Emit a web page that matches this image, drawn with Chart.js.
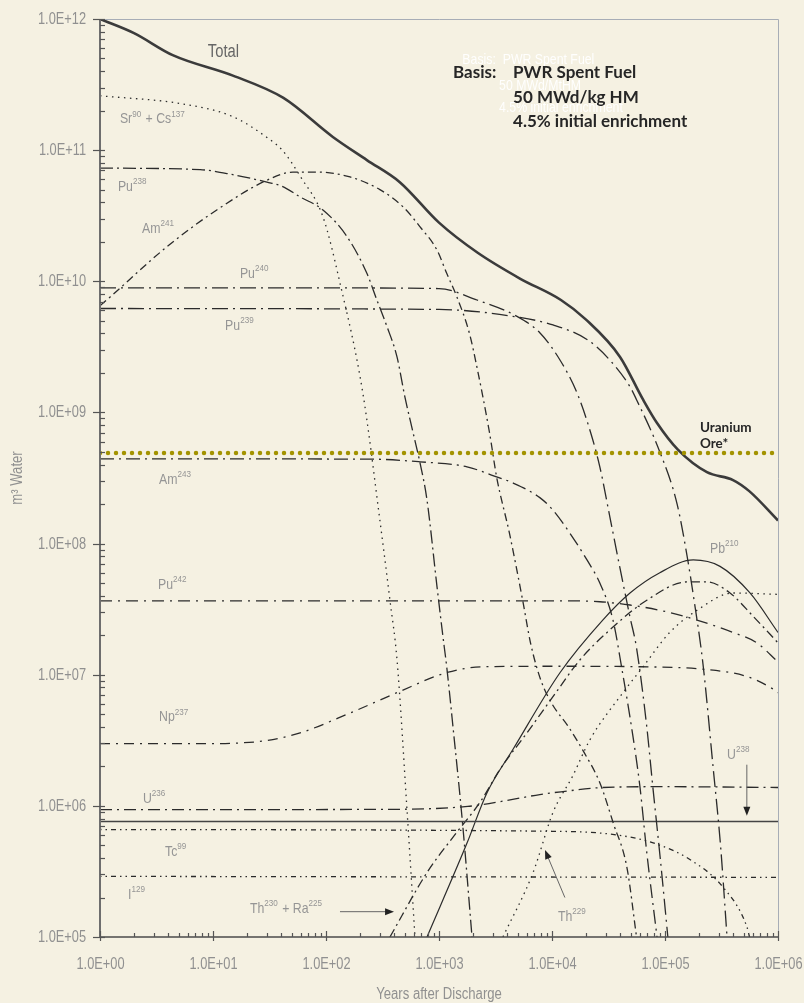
<!DOCTYPE html>
<html>
<head>
<meta charset="utf-8">
<title>PWR spent fuel - m3 water</title>
<script src="https://cdn.jsdelivr.net/npm/chart.js@4.4.1/dist/chart.umd.min.js"></script>
<style>
  html, body { margin: 0; padding: 0; background: #f5f1e2; }
  #wrap { width: 804px; height: 1003px; }
</style>
</head>
<body>
<div id="wrap"><canvas id="chart" width="804" height="1003"></canvas></div>
<script>
// axis ticks
const xTickValues = [1, 10, 100, 1000, 1e4, 1e5, 1e6];
const xTickLabels = ['1.0E+00', '1.0E+01', '1.0E+02', '1.0E+03', '1.0E+04', '1.0E+05', '1.0E+06'];
const yTickValues = [1e5, 1e6, 1e7, 1e8, 1e9, 1e10, 1e11, 1e12];
const yTickLabels = ['1.0E+05', '1.0E+06', '1.0E+07', '1.0E+08', '1.0E+09', '1.0E+10', '1.0E+11', '1.0E+12'];

// series: [years after discharge, m3 water]
const total = [[1, 1e12], [2, 7.8e11], [4.4, 5.3e11], [15, 3.7e11], [42, 2.5e11], [115, 1.26e11], [230, 8.4e10], [450, 5.7e10], [1000, 2.8e10], [2200, 1.65e10], [5200, 1.05e10], [1.2e4, 7.2e9], [2e4, 5.1e9], [4e4, 2.65e9], [6.4e4, 1.25e9], [8.5e4, 8.3e8], [1.3e5, 5.2e8], [2.35e5, 3.5e8], [4e5, 3.05e8], [5.6e5, 2.5e8], [1e6, 1.5e8]];
const srCs = [[1, 2.6e11], [5.4, 2.25e11], [15, 1.8e11], [30, 1.25e11], [41, 1.0e11], [60, 6.2e10], [94, 3.1e10], [133, 9.7e9], [212, 1.4e9], [300, 1.5e8], [368, 3.7e7], [425, 1.3e7], [521, 9.3e5], [613, 1e5]];
const pu238 = [[1, 7.3e10], [7.7, 7.1e10], [15, 6.5e10], [30, 5.7e10], [41, 5.3e10], [59, 4.4e10], [94, 3.5e10], [153, 2.2e10], [230, 1.15e10], [282, 7.2e9], [347, 4.5e9], [425, 2.65e9], [500, 1.3e9], [590, 7e8], [680, 4.1e8], [780, 2.2e8], [960, 4.7e7], [1080, 2e7], [1170, 1.15e7], [1330, 4e6], [1620, 7.2e5], [1960, 1e5]];
const am241 = [[1, 6.5e9], [1.23, 7.6e9], [3.9, 1.83e10], [10.8, 3.5e10], [30, 5.9e10], [51, 6.8e10], [83, 6.8e10], [163, 6.25e10], [300, 5e10], [480, 3.7e10], [680, 2.6e10], [960, 1.73e10], [1170, 1.15e10], [1440, 7.6e9], [1860, 4e9], [2170, 2.2e9], [2800, 7e8], [3240, 3.2e8], [4200, 1.2e8], [5500, 3.7e7], [6500, 1.7e7], [8000, 9e6], [1e4, 6e6], [1.4e4, 4e6], [1.9e4, 2.6e6], [2.65e4, 1.5e6], [3.5e4, 7.3e5], [4.6e4, 3.4e5], [5.6e4, 1e5]];
const pu240 = [[1, 8.9e9], [100, 8.9e9], [1000, 8.8e9], [2170, 7.2e9], [4900, 5.4e9], [7800, 4.05e9], [1.18e4, 2.5e9], [1.67e4, 1.4e9], [2.2e4, 7e8], [2.65e4, 3.85e8], [3.25e4, 1.6e8], [3.98e4, 6.6e7], [4.9e4, 2.75e7], [5.6e4, 1.6e7], [6.9e4, 4e6], [7.8e4, 1.4e6], [9.1e4, 3.9e5], [1.06e5, 1e5]];
const pu239 = [[1, 6.2e9], [1000, 6.1e9], [5200, 5.3e9], [1.02e4, 4.65e9], [2.04e4, 3.6e9], [3.26e4, 2.5e9], [4.9e4, 1.57e9], [5.6e4, 1.25e9], [9e4, 5e8], [1.28e5, 2e8], [1.57e5, 8e7], [1.8e5, 3.8e7], [2.17e5, 1.2e7], [2.66e5, 2e6], [3.1e5, 5e5], [3.54e5, 1e5]];
const am243 = [[1, 4.43e8], [260, 4.4e8], [680, 4.2e8], [1770, 3.85e8], [3000, 3.3e8], [4500, 2.9e8], [7800, 2.24e8], [1.02e4, 1.8e8], [1.44e4, 1.2e8], [2.04e4, 7.5e7], [2.65e4, 5.0e7], [3.47e4, 2.6e7], [4.16e4, 1.1e7], [5.1e4, 3.8e6], [6e4, 1.4e6], [6.9e4, 4.4e5], [8.5e4, 1e5]];
const pu242 = [[1, 3.66e7], [1.2e4, 3.66e7], [2.65e4, 3.6e7], [4.9e4, 3.4e7], [9e4, 3.1e7], [1.57e5, 2.75e7], [4e5, 2.1e7], [6.5e5, 1.75e7], [1e6, 1.25e7]];
const np237 = [[1, 2.98e6], [10, 2.98e6], [15, 3.0e6], [30, 3.15e6], [59, 3.6e6], [163, 5.1e6], [425, 7.3e6], [1180, 1.04e7], [2450, 1.15e7], [1.2e4, 1.16e7], [6e4, 1.15e7], [2.2e5, 1.1e7], [5.3e5, 9.7e6], [9e5, 7.8e6], [1e6, 7.3e6]];
const u236 = [[1, 9.35e5], [300, 9.4e5], [1800, 9.9e5], [4000, 1.1e6], [7800, 1.22e6], [1.2e4, 1.28e6], [2.8e4, 1.38e6], [1e5, 1.4e6], [1e6, 1.38e6]];
const u238 = [[1, 7.6e5], [1e6, 7.6e5]];
const tc99 = [[1, 6.6e5], [1e4, 6.4e5], [3.76e4, 6.0e5], [8.5e4, 5.1e5], [1.66e5, 3.9e5], [3.26e5, 2.4e5], [5.3e5, 1.2e5], [5.6e5, 1e5]];
const i129 = [[1, 2.9e5], [1e6, 2.85e5]];
const th230Ra = [[368, 1e5], [783, 3.1e5], [1440, 6.3e5], [2300, 1.06e6], [3470, 1.9e6], [6000, 3.6e6], [1.02e4, 6.8e6], [1.77e4, 1.3e7], [3.07e4, 2.1e7], [6.9e4, 3.7e7], [1.57e5, 5.1e7], [2.35e5, 5.1e7], [3.76e5, 4.2e7], [6e5, 2.8e7], [1e6, 1.75e7]];
const pb210 = [[783, 1e5], [1770, 5.2e5], [2660, 1.26e6], [4520, 2.7e6], [1.18e4, 1.04e7], [2.8e4, 2.6e7], [4.9e4, 4.2e7], [9e4, 6e7], [1.78e5, 7.5e7], [3.07e5, 6.7e7], [5.65e5, 4.2e7], [1e6, 2.1e7]];
const th229 = [[3680, 1e5], [6800, 3.1e5], [1.02e4, 8.9e5], [1.53e4, 1.7e6], [2.17e4, 3.2e6], [4.25e4, 7.3e6], [6.4e4, 1.15e7], [1.1e5, 2.1e7], [1.92e5, 3.1e7], [4e5, 4.2e7], [1e6, 4.1e7]];
const uraniumOre = [[1, 4.9e8], [1e6, 4.9e8]];

const INK = '#2b2b2b';
const SANS = '"Liberation Sans", Arial, sans-serif';
const GREY = '#909090';

const curves = [
    { name: 'Uranium Ore', data: uraniumOre, width: 4.5, dash: [0, 8], color: '#a39300', cap: 'round', order: 0 },
    { name: 'Total', data: total, width: 2.6, dash: [], color: '#3b3b3b' },
    { name: 'Sr90 + Cs137', data: srCs, width: 1.3, dash: [1.5, 4.5] },
    { name: 'Pu238', data: pu238, width: 1.3, dash: [13, 4, 2, 4] },
    { name: 'Am241', data: am241, width: 1.3, dash: [8, 4, 2, 4] },
    { name: 'Pu240', data: pu240, width: 1.3, dash: [16, 5, 2, 5] },
    { name: 'Pu239', data: pu239, width: 1.3, dash: [16, 5, 2, 5] },
    { name: 'Am243', data: am243, width: 1.3, dash: [14, 5, 2, 5] },
    { name: 'Pu242', data: pu242, width: 1.3, dash: [12, 6, 2, 6] },
    { name: 'Np237', data: np237, width: 1.3, dash: [10, 6, 2, 6] },
    { name: 'U236', data: u236, width: 1.3, dash: [12, 5, 2, 5] },
    { name: 'U238', data: u238, width: 1.3, dash: [], color: '#444' },
    { name: 'Tc99', data: tc99, width: 1.3, dash: [1.5, 4, 1.5, 4, 5, 4] },
    { name: 'I129', data: i129, width: 1.3, dash: [1.5, 4, 1.5, 4, 5, 4] },
    { name: 'Th230 + Ra225', data: th230Ra, width: 1.3, dash: [9, 4, 2, 4] },
    { name: 'Pb210', data: pb210, width: 1.2, dash: [] },
    { name: 'Th229', data: th229, width: 1.3, dash: [1.5, 4.5] }
];

// text labels, anchored in data coordinates (left, baseline)
const labels = [
    { parts: [['Total', 0]], at: [9.0, 5.1e11], size: 18, color: '#666' },
    { parts: [['Sr', 0], ['90', 1], [' + Cs', 0], ['137', 1]], at: [1.5, 1.6e11] },
    { parts: [['Pu', 0], ['238', 1]], at: [1.44, 4.9e10] },
    { parts: [['Am', 0], ['241', 1]], at: [2.35, 2.34e10] },
    { parts: [['Pu', 0], ['240', 1]], at: [17.3, 1.06e10] },
    { parts: [['Pu', 0], ['239', 1]], at: [12.8, 4.27e9] },
    { parts: [['Am', 0], ['243', 1]], at: [3.33, 2.86e8] },
    { parts: [['Pu', 0], ['242', 1]], at: [3.26, 4.5e7] },
    { parts: [['Np', 0], ['237', 1]], at: [3.33, 4.4e6] },
    { parts: [['U', 0], ['236', 1]], at: [2.4, 1.06e6] },
    { parts: [['Tc', 0], ['99', 1]], at: [3.76, 4.17e5] },
    { parts: [['I', 0], ['129', 1]], at: [1.77, 1.96e5] },
    { parts: [['Th', 0], ['230', 1], [' + Ra', 0], ['225', 1]], at: [21.2, 1.53e5] },
    { parts: [['Pb', 0], ['210', 1]], at: [2.5e5, 8.5e7] },
    { parts: [['U', 0], ['238', 1]], at: [3.54e5, 2.29e6] },
    { parts: [['Th', 0], ['229', 1]], at: [1.13e4, 1.33e5] }
];

const arrows = [
    { from: [133, 1.56e5], to: [400, 1.56e5] },
    { from: [5.3e5, 2.06e6], to: [5.3e5, 8.4e5] },
    { from: [1.3e4, 2e5], to: [8670, 4.6e5] }
];

const basisLines = [
    { text: 'Basis:', at: [1330, 3.55e11] },
    { text: 'PWR Spent Fuel', at: [4520, 3.55e11] },
    { text: '50 MWd/kg HM', at: [4520, 2.29e11] },
    { text: '4.5% initial enrichment', at: [4520, 1.5e11] }
];
const ghostLines = [
    { text: 'Basis:  PWR Spent Fuel', at: [1610, 4.5e11] },
    { text: '50 MWd/MtHM', at: [3400, 2.9e11] },
    { text: '4.5% initial enrichment', at: [3400, 1.95e11] }
];
const oreLines = [
    { text: 'Uranium', at: [2.04e5, 7.1e8] },
    { text: 'Ore*', at: [2.04e5, 5.37e8] }
];

function logTicks(majors) {
    const out = [];
    majors.forEach((m, i) => {
        out.push({ value: m, major: true });
        if (i < majors.length - 1) {
            for (let k = 2; k < 10; k++) out.push({ value: m * k, major: false });
        }
    });
    return out;
}

// condensed text: the reference uses a narrow face, so squeeze a regular one
function narrowText(ctx, text, px, py, size, color, align, baseline, squeeze) {
    const k = squeeze || 0.82;
    ctx.save();
    ctx.translate(px, py);
    ctx.scale(k, 1);
    ctx.font = size + 'px ' + SANS;
    ctx.fillStyle = color;
    ctx.textAlign = align || 'left';
    ctx.textBaseline = baseline || 'alphabetic';
    ctx.fillText(text, 0, 0);
    const w = ctx.measureText(text).width * k;
    ctx.restore();
    return w;
}

function drawParts(ctx, parts, px, py, size, color) {
    let cx = px;
    parts.forEach(([text, sup]) => {
        const s = sup ? size * 0.66 : size;
        cx += narrowText(ctx, text, cx, sup ? py - size * 0.45 : py, s, color) + (sup ? 1 : 0);
    });
}

function drawArrow(ctx, x1, y1, x2, y2) {
    const ang = Math.atan2(y2 - y1, x2 - x1);
    ctx.strokeStyle = '#666';
    ctx.lineWidth = 1;
    ctx.beginPath();
    ctx.moveTo(x1, y1);
    ctx.lineTo(x2 - 7 * Math.cos(ang), y2 - 7 * Math.sin(ang));
    ctx.stroke();
    ctx.fillStyle = '#222';
    ctx.beginPath();
    ctx.moveTo(x2, y2);
    ctx.lineTo(x2 - 9 * Math.cos(ang) + 3.5 * Math.sin(ang), y2 - 9 * Math.sin(ang) - 3.5 * Math.cos(ang));
    ctx.lineTo(x2 - 9 * Math.cos(ang) - 3.5 * Math.sin(ang), y2 - 9 * Math.sin(ang) + 3.5 * Math.cos(ang));
    ctx.closePath();
    ctx.fill();
}

const sketchPlugin = {
    id: 'sketch',
    beforeDraw(chart) {
        const ctx = chart.ctx;
        ctx.save();
        ctx.fillStyle = '#f5f1e2';
        ctx.fillRect(0, 0, chart.width, chart.height);
        ctx.restore();
    },
    afterDatasetsDraw(chart) {
        const { ctx, chartArea: a, scales: { x, y } } = chart;
        ctx.save();

        // frame
        ctx.strokeStyle = '#a7adb6';
        ctx.lineWidth = 1;
        ctx.beginPath();
        ctx.moveTo(a.left, a.top + 0.5);
        ctx.lineTo(a.right + 0.5, a.top + 0.5);
        ctx.lineTo(a.right + 0.5, a.bottom);
        ctx.stroke();

        ctx.strokeStyle = '#6e6e6e';
        ctx.lineWidth = 2;
        ctx.beginPath();
        ctx.moveTo(a.left, a.top);
        ctx.lineTo(a.left, a.bottom);
        ctx.stroke();

        ctx.strokeStyle = '#4a4a4a';
        ctx.lineWidth = 1.5;
        ctx.beginPath();
        ctx.moveTo(a.left, a.bottom);
        ctx.lineTo(a.right + 1, a.bottom);
        ctx.stroke();

        // tick marks and tick labels
        ctx.lineWidth = 1.2;
        ctx.strokeStyle = '#555';
        y.ticks.forEach(t => {
            const py = Math.round(y.getPixelForValue(t.value)) + 0.5;
            ctx.beginPath();
            ctx.moveTo(t.major ? a.left - 7 : a.left, py);
            ctx.lineTo(a.left + 5, py);
            ctx.stroke();
            const i = yTickValues.indexOf(t.value);
            if (i >= 0) narrowText(ctx, yTickLabels[i], a.left - 14, py, 16, GREY, 'right', 'middle', 0.8);
        });
        x.ticks.forEach(t => {
            const px = Math.round(x.getPixelForValue(t.value)) + 0.5;
            ctx.beginPath();
            ctx.moveTo(px, t.major ? a.bottom + 4 : a.bottom);
            ctx.lineTo(px, t.major ? a.bottom - 6 : a.bottom - 4);
            ctx.stroke();
            const i = xTickValues.indexOf(t.value);
            if (i >= 0) narrowText(ctx, xTickLabels[i], px, a.bottom + 32, 16, GREY, 'center', 'alphabetic', 0.8);
        });

        // axis titles
        ctx.save();
        ctx.translate(18, (a.top + a.bottom) / 2);
        ctx.rotate(-Math.PI / 2);
        narrowText(ctx, 'm³ Water', 0, 0, 16, GREY, 'center', 'middle');
        ctx.restore();
        narrowText(ctx, 'Years after Discharge', (a.left + a.right) / 2, 999, 16, GREY, 'center', 'alphabetic');

        // isotope labels
        labels.forEach(l => {
            drawParts(ctx, l.parts, x.getPixelForValue(l.at[0]), y.getPixelForValue(l.at[1]), l.size || 15, l.color || '#959595');
        });

        arrows.forEach(r => {
            drawArrow(ctx, x.getPixelForValue(r.from[0]), y.getPixelForValue(r.from[1]),
                x.getPixelForValue(r.to[0]), y.getPixelForValue(r.to[1]));
        });

        // faint white text behind the basis block
        ghostLines.forEach(g => narrowText(ctx, g.text, x.getPixelForValue(g.at[0]), y.getPixelForValue(g.at[1]), 15, 'rgba(255,255,255,0.95)'));

        ctx.textAlign = 'left';
        ctx.textBaseline = 'alphabetic';
        ctx.fillStyle = '#262626';
        ctx.font = 'bold 17px Lato, "Noto Sans", sans-serif';
        basisLines.forEach(b => ctx.fillText(b.text, x.getPixelForValue(b.at[0]), y.getPixelForValue(b.at[1])));

        ctx.font = 'bold 13.5px Lato, "Noto Sans", sans-serif';
        oreLines.forEach(o => ctx.fillText(o.text, x.getPixelForValue(o.at[0]), y.getPixelForValue(o.at[1])));

        ctx.restore();
    }
};

new Chart(document.getElementById('chart'), {
    type: 'line',
    data: {
        datasets: curves.map(c => ({
            label: c.name,
            data: c.data.map(([px, py]) => ({ x: px, y: py })),
            borderColor: c.color || INK,
            borderWidth: c.width,
            borderDash: c.dash,
            borderCapStyle: c.cap || 'butt',
            pointRadius: 0,
            fill: false,
            cubicInterpolationMode: 'monotone',
            order: c.order === undefined ? 1 : c.order
        }))
    },
    options: {
        responsive: false,
        animation: false,
        events: [],
        layout: { padding: { left: 0, right: 26, top: 19, bottom: 0 } },
        plugins: { legend: { display: false }, tooltip: { enabled: false } },
        scales: {
            x: {
                type: 'logarithmic',
                min: 1,
                max: 1e6,
                afterBuildTicks: s => { s.ticks = logTicks(xTickValues); },
                afterFit: s => {
                    s.height = 66;
                    s.paddingLeft = 0;
                    s.paddingRight = 0;
                },
                grid: { display: false, drawTicks: false },
                border: { display: false },
                ticks: { display: false, autoSkip: false }
            },
            y: {
                type: 'logarithmic',
                min: 1e5,
                max: 1e12,
                afterBuildTicks: s => { s.ticks = logTicks(yTickValues); },
                afterFit: s => {
                    s.width = 100;
                    s.paddingTop = 0;
                    s.paddingBottom = 0;
                },
                grid: { display: false, drawTicks: false },
                border: { display: false },
                ticks: { display: false, autoSkip: false }
            }
        }
    },
    plugins: [sketchPlugin]
});
</script>
</body>
</html>
